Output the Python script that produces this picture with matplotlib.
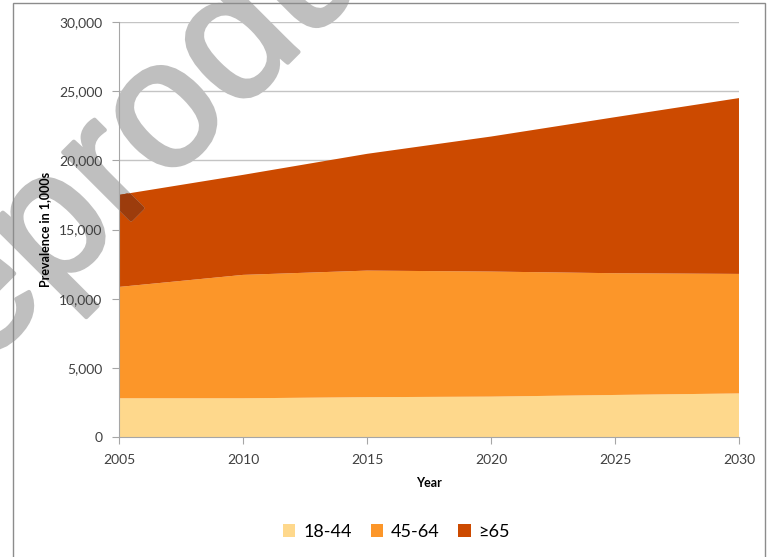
import matplotlib
matplotlib.use("Agg")
import matplotlib.pyplot as plt
import matplotlib.patheffects as pe
from matplotlib.patches import Rectangle

plt.rcParams["font.family"] = ["Lato", "DejaVu Sans"]

years = [2005, 2010, 2015, 2020, 2025, 2030]
age_18_44 = [2800, 2800, 2880, 2920, 3040, 3150]
age_45_64 = [8050, 8920, 9150, 9040, 8800, 8640]
age_65_up = [6650, 7230, 8440, 9760, 11280, 12710]
labels = ["18-44", "45-64", "\u226565"]
colors = ["#fed88c", "#fc9629", "#cc4a00"]
yticks = [0, 5000, 10000, 15000, 20000, 25000, 30000]

fig = plt.figure(figsize=(7.73, 5.57), dpi=100)
ax = fig.add_axes([0.154, 0.2154, 0.802, 0.7451])

# gridlines behind the areas, tick labels above the watermark
for v in yticks[1:]:
    ax.axhline(v, color="#c4c4c4", linewidth=1, zorder=0.5)
polys = ax.stackplot(years, age_18_44, age_45_64, age_65_up, labels=labels,
                     colors=colors, linewidth=0, zorder=1)
ax.xaxis.set_zorder(3)
ax.yaxis.set_zorder(3)

ax.set_xlim(2005, 2030)
ax.set_ylim(0, 30000)
ax.set_xticks(years)
ax.set_yticks(yticks)
ax.set_yticklabels([f"{v:,}" for v in yticks])
for side in ("top", "right"):
    ax.spines[side].set_visible(False)
for side in ("left", "bottom"):
    ax.spines[side].set_color("#a6a6a6")
ax.tick_params(axis="both", colors="#a6a6a6", labelcolor="#404040",
               labelsize=10, length=5, pad=7)

ax.set_xlabel("Year", fontsize=9, fontweight="bold", labelpad=8)
ax.set_ylabel("Prevalence in 1,000s", fontsize=9, fontweight="bold", labelpad=6)

ax.legend(loc="center", bbox_to_anchor=(0.513, 0.0454),
          bbox_transform=fig.transFigure, ncol=3, frameon=False,
          fontsize=13, handlelength=0.67, handleheight=0.67,
          handletextpad=0.45, columnspacing=1.05)

# watermark: light grey on white, darker where it crosses the red area
wm_kw = dict(transform=fig.transFigure, fontsize=130, family="Liberation Sans",
             rotation=45, rotation_mode="anchor", ha="left", va="baseline",
             zorder=2)
wm = ax.text(-0.1449, 0.1698, "Reproduction", color="#bfbfbf",
             clip_on=False, **wm_kw)
wm.set_path_effects([pe.withStroke(linewidth=3, foreground="#bfbfbf")])
wm_dark = ax.text(-0.1449, 0.1698, "Reproduction", color="#9c3c0c",
                  clip_on=True, **wm_kw)
wm_dark.set_path_effects([pe.withStroke(linewidth=3, foreground="#9c3c0c")])
wm_dark.set_clip_path(polys[2].get_paths()[0], ax.transData)

# outer frame
fig.patches.append(Rectangle((0.0168, -0.01), 0.973, 1.0046,
                             transform=fig.transFigure, fill=False,
                             edgecolor="#8c8c8c", linewidth=1))

fig.savefig("out.png", dpi=100)
